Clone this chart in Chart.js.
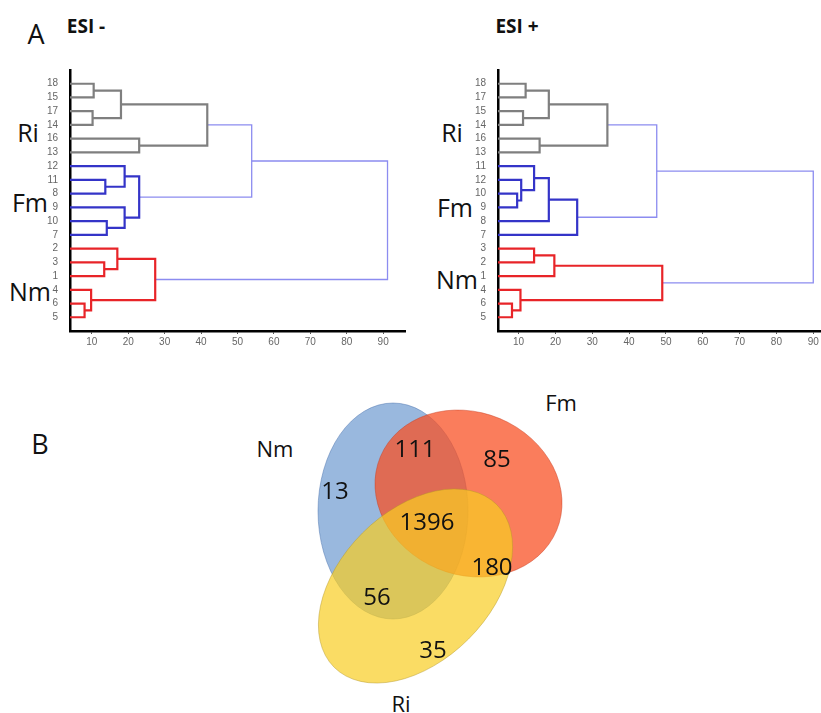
<!DOCTYPE html>
<html>
<head>
<meta charset="utf-8">
<script src="https://cdn.jsdelivr.net/npm/chart.js@4.4.0/dist/chart.umd.min.js"></script>
<style>
html,body{margin:0;padding:0;background:#fff;}
body{width:821px;height:713px;position:relative;overflow:hidden;font-family:"Open Sans",sans-serif;color:#111;}
canvas{position:absolute;}
.t{position:absolute;transform:translate(-50%,-50%);white-space:nowrap;line-height:1;}
.b{font-weight:bold;font-size:19px;}
.g{font-size:25px;}
</style>
</head>
<body>
<div class="t" style="left:36px;top:33px;font-size:27px">A</div>
<div class="t b" style="left:86px;top:26px">ESI -</div>
<div class="t b" style="left:517px;top:26px">ESI +</div>
<div class="t g" style="left:28px;top:132px">Ri</div>
<div class="t g" style="left:30px;top:202px">Fm</div>
<div class="t g" style="left:30px;top:291px">Nm</div>
<div class="t g" style="left:452px;top:132px">Ri</div>
<div class="t g" style="left:455px;top:207px">Fm</div>
<div class="t g" style="left:457px;top:279px">Nm</div>
<div class="t" style="left:40px;top:443px;font-size:27px">B</div>
<div class="t" style="left:275px;top:448px;font-size:22px">Nm</div>
<div class="t" style="left:561px;top:402px;font-size:22px">Fm</div>
<div class="t" style="left:401px;top:703px;font-size:22px">Ri</div>

<canvas id="esiNeg" width="415" height="300" style="left:0;top:60px"></canvas>
<canvas id="esiPos" width="391" height="300" style="left:430px;top:60px"></canvas>
<canvas id="venn" width="400" height="328" style="left:230px;top:385px"></canvas>

<script>
// ESI - : leaf order top to bottom, then merges [left, right, height, group]
var negLeaves = ['18','15','17','14','16','13','12','11','8','9','10','7','2','3','1','4','6','5'];
var negMerges = [
  ['18','15',10.5,'Ri'],
  ['17','14',10.2,'Ri'],
  ['m0','m1',18,'Ri'],
  ['16','13',23,'Ri'],
  ['m2','m3',41.7,'Ri'],
  ['11','8',13.7,'Fm'],
  ['12','m5',19,'Fm'],
  ['10','7',14.1,'Fm'],
  ['9','m7',19,'Fm'],
  ['m6','m8',23,'Fm'],
  ['m4','m9',53.9,'link'],
  ['3','1',13.4,'Nm'],
  ['2','m11',17,'Nm'],
  ['6','5',8,'Nm'],
  ['4','m13',9.8,'Nm'],
  ['m12','m14',27.4,'Nm'],
  ['m10','m15',91.2,'link']
];

// ESI +
var posLeaves = ['18','17','15','14','16','13','11','12','10','9','8','7','3','2','1','4','6','5'];
var posMerges = [
  ['18','17',11.9,'Ri'],
  ['15','14',11.2,'Ri'],
  ['m0','m1',18.2,'Ri'],
  ['16','13',15.7,'Ri'],
  ['m2','m3',34.1,'Ri'],
  ['10','9',9.6,'Fm'],
  ['12','m5',10.7,'Fm'],
  ['11','m6',14.2,'Fm'],
  ['m7','8',18.2,'Fm'],
  ['m8','7',25.9,'Fm'],
  ['m4','m9',47.5,'link'],
  ['3','2',14.2,'Nm'],
  ['m11','1',19.7,'Nm'],
  ['6','5',8.2,'Nm'],
  ['4','m13',10.5,'Nm'],
  ['m12','m14',49,'Nm'],
  ['m10','m15',90,'link']
];

var xTicks = [10,20,30,40,50,60,70,80,90];

// Venn counts
var vennRegions = ['Nm','Nm+Fm','Fm','Nm+Fm+Ri','Fm+Ri','Nm+Ri','Ri'];
var vennCounts = [13,111,85,1396,180,56,35];

// venn drawing layout (not data)
var vennShapes = [
  {cx:163, cy:126, rx:75, ry:108, rot:0, fill:'rgba(70,125,195,0.55)', edge:'rgba(70,110,170,0.45)'},
  {cx:238.5, cy:108.5, rx:95.5, ry:81.2, rot:0.396, fill:'rgba(248,80,35,0.74)', edge:'rgba(200,60,30,0.45)'},
  {cx:185.5, cy:201, rx:115, ry:75, rot:-0.785, fill:'rgba(248,205,34,0.7)', edge:'rgba(180,150,40,0.45)'}
];
var vennSpots = [[105,107],[185,65],[267,75],[197,138],[262,183],[147,213],[203,266]];

var groupColors = {Ri:'#7f7f7f', Fm:'#3434c8', Nm:'#e82428', link:'#8c8cf0'};
var tickFont = {size:10, family:'"Liberation Sans", Arial, sans-serif'};

//build the U shaped links of a dendrogram
var buildLinks = function (leaves, merges) {
  var nodes = {};
  leaves.forEach(function (name, i) { nodes[name] = {x: 0, y: i}; });
  return merges.map(function (m, i) {
    var a = nodes[m[0]], b = nodes[m[1]];
    nodes['m' + i] = {x: m[2], y: (a.y + b.y) / 2};
    return {
      data: [{x:a.x, y:a.y}, {x:m[2], y:a.y}, {x:m[2], y:b.y}, {x:b.x, y:b.y}],
      showLine: true,
      borderColor: groupColors[m[3]],
      borderWidth: m[3] === 'link' ? 1.3 : 2.2,
      pointRadius: 0,
      tension: 0
    };
  });
};

var makeDendro = function (id, leaves, merges, xMin, xMax, yAxisWidth, padRight) {
  return new Chart(document.getElementById(id), {
    type: 'scatter',
    data: {datasets: buildLinks(leaves, merges)},
    options: {
      responsive: false,
      animation: false,
      layout: {padding: {top: 10, right: padRight, bottom: 0, left: 0}},
      plugins: {legend: {display: false}, tooltip: {enabled: false}},
      scales: {
        x: {
          type: 'linear', min: xMin, max: xMax,
          afterBuildTicks: function (s) { s.ticks = xTicks.map(function (v) { return {value: v}; }); },
          afterFit: function (s) { s.height = 29; },
          grid: {display: true, drawOnChartArea: false, drawTicks: true, tickLength: 3, color: '#555'},
          border: {display: true, color: '#000', width: 2.5},
          ticks: {padding: 2, color: '#666', font: tickFont, maxRotation: 0, autoSkip: false}
        },
        y: {
          type: 'linear', reverse: true, min: -1, max: 18,
          afterBuildTicks: function (s) { s.ticks = leaves.map(function (l, i) { return {value: i}; }); },
          afterFit: function (s) { s.width = yAxisWidth; },
          grid: {display: false},
          border: {display: true, color: '#000', width: 2.5},
          ticks: {padding: 4, color: '#666', font: tickFont, autoSkip: false,
                  callback: function (v) { return leaves[v]; }}
        }
      }
    }
  });
};

makeDendro('esiNeg', negLeaves, negMerges, 4, 96, 70, 10);
makeDendro('esiPos', posLeaves, posMerges, 4.4, 92.1, 68, 0);

//Venn: ellipses and counts drawn through the chart scales
var vennPlugin = {
  id: 'vennShapes',
  beforeDatasetsDraw: function (chart) {
    var ctx = chart.ctx, xs = chart.scales.x, ys = chart.scales.y;
    vennShapes.forEach(function (s) {
      var cx = xs.getPixelForValue(s.cx), cy = ys.getPixelForValue(s.cy);
      var rx = Math.abs(xs.getPixelForValue(s.cx + s.rx) - cx);
      var ry = Math.abs(ys.getPixelForValue(s.cy + s.ry) - cy);
      ctx.save();
      ctx.beginPath();
      ctx.ellipse(cx, cy, rx, ry, s.rot, 0, 2 * Math.PI);
      ctx.fillStyle = s.fill;
      ctx.fill();
      ctx.strokeStyle = s.edge;
      ctx.lineWidth = 1;
      ctx.stroke();
      ctx.restore();
    });
  },
  afterDatasetsDraw: function (chart) {
    var ctx = chart.ctx, meta = chart.getDatasetMeta(0);
    ctx.save();
    ctx.font = '24px "Open Sans", sans-serif';
    ctx.fillStyle = '#111';
    ctx.textAlign = 'center';
    ctx.textBaseline = 'middle';
    meta.data.forEach(function (pt, i) {
      ctx.fillText(String(vennCounts[i]), pt.x, pt.y);
    });
    ctx.restore();
  }
};

new Chart(document.getElementById('venn'), {
  type: 'scatter',
  data: {
    labels: vennRegions,
    datasets: [{
      data: vennSpots.map(function (p) { return {x: p[0], y: p[1]}; }),
      pointRadius: 0
    }]
  },
  options: {
    responsive: false,
    animation: false,
    layout: {padding: 0},
    plugins: {legend: {display: false}, tooltip: {enabled: false}},
    scales: {
      x: {type: 'linear', min: 0, max: 400, display: false},
      y: {type: 'linear', min: 0, max: 328, reverse: true, display: false}
    }
  },
  plugins: [vennPlugin]
});
</script>
</body>
</html>
